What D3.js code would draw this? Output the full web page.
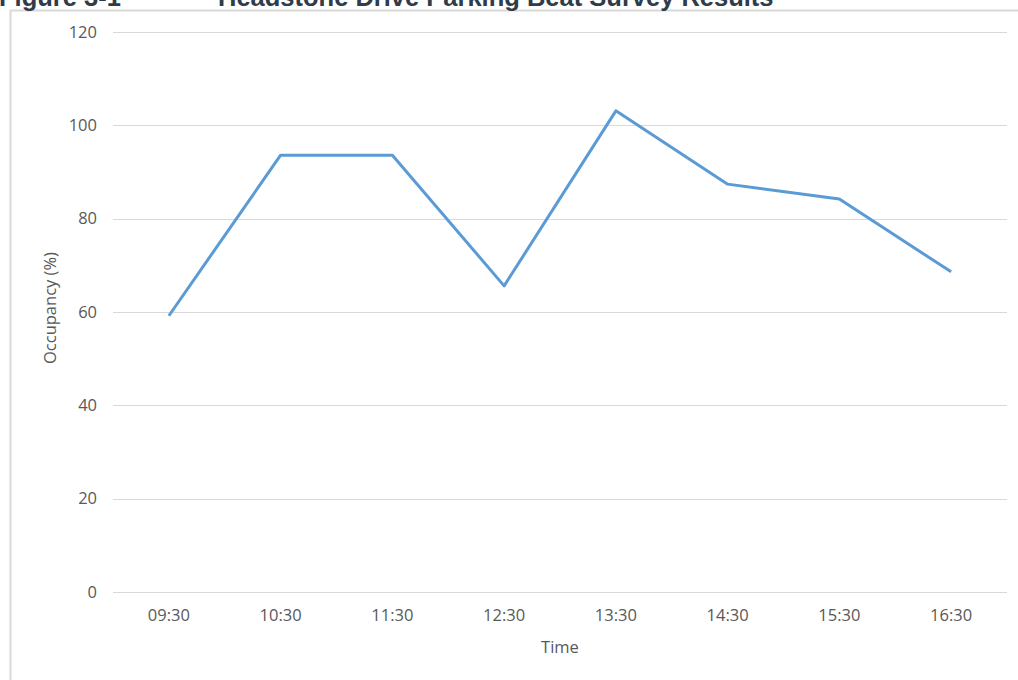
<!DOCTYPE html>
<html>
<head>
<meta charset="utf-8">
<script src="https://cdn.jsdelivr.net/npm/d3@7"></script>
<style>
  body { margin: 0; background: #fff; }
  svg { display: block; }
</style>
</head>
<body>
<script>
var width = 1018, height = 680;

// data
var times = ["09:30", "10:30", "11:30", "12:30", "13:30", "14:30", "15:30", "16:30"];
var occupancy = [59.2, 93.6, 93.6, 65.6, 103.1, 87.4, 84.2, 68.6];
var yTicks = [0, 20, 40, 60, 80, 100, 120];

var margin = {top: 32, right: 11, bottom: 88, left: 113};

var svg = d3.select("body")
    .append("svg")
    .attr("width", width)
    .attr("height", height);

// chart frame (left + top edges visible)
svg.append("path")
    .attr("d", "M10.5," + height + "V10.5H" + width)
    .attr("fill", "none")
    .attr("stroke", "#d9d9d9")
    .attr("stroke-width", 2);

// title, clipped at the top in the original
var titleFont = "'Liberation Sans', Arial, sans-serif";
svg.append("text")
    .attr("x", -1)
    .attr("y", 6)
    .attr("fill", "#2e3c4b")
    .style("font-family", titleFont)
    .style("font-weight", "bold")
    .style("font-size", "25.5px")
    .text("Figure 3-1");

svg.append("text")
    .attr("x", 218)
    .attr("y", 6)
    .attr("fill", "#2e3c4b")
    .style("font-family", titleFont)
    .style("font-weight", "bold")
    .style("font-size", "25.5px")
    .text("Headstone Drive Parking Beat Survey Results");

var x = d3.scaleBand()
    .domain(times)
    .range([margin.left, width - margin.right]);

var y = d3.scaleLinear()
    .domain([0, 120])
    .range([height - margin.bottom, margin.top]);

var g = svg.append("g");

// horizontal gridlines
g.selectAll("line.grid")
    .data(yTicks)
    .enter()
    .append("line")
    .attr("class", "grid")
    .attr("x1", margin.left)
    .attr("x2", width - margin.right)
    .attr("y1", function (d) { return Math.round(y(d)) + 0.5; })
    .attr("y2", function (d) { return Math.round(y(d)) + 0.5; })
    .attr("stroke", "#d9d9d9")
    .attr("stroke-width", 1);

var labelFont = "'Open Sans', sans-serif";
var labelSize = "16.5px";

// y axis labels
var yAxis = d3.axisLeft(y).tickValues(yTicks).tickSize(0).tickPadding(16);
g.append("g")
    .attr("transform", "translate(" + margin.left + ",0)")
    .call(yAxis)
    .call(function (a) { a.select(".domain").remove(); })
    .selectAll("text")
    .attr("fill", "#595959")
    .style("font-family", labelFont)
    .style("font-size", labelSize);

// x axis labels
var xAxis = d3.axisBottom(x).tickSize(0).tickPadding(17);
g.append("g")
    .attr("transform", "translate(0," + y(0) + ")")
    .call(xAxis)
    .call(function (a) { a.select(".domain").remove(); })
    .selectAll("text")
    .attr("fill", "#595959")
    .style("font-family", labelFont)
    .style("font-size", labelSize);

// axis titles
svg.append("text")
    .attr("x", (margin.left + width - margin.right) / 2)
    .attr("y", 653)
    .attr("text-anchor", "middle")
    .attr("fill", "#595959")
    .style("font-family", labelFont)
    .style("font-size", labelSize)
    .text("Time");

svg.append("text")
    .attr("transform", "translate(56," + 308 + ") rotate(-90)")
    .attr("text-anchor", "middle")
    .attr("fill", "#595959")
    .style("font-family", labelFont)
    .style("font-size", labelSize)
    .text("Occupancy (%)");

// the line
var line = d3.line()
    .x(function (d, i) { return x(times[i]) + x.bandwidth() / 2; })
    .y(function (d) { return y(d); });

g.append("path")
    .datum(occupancy)
    .attr("d", line)
    .attr("fill", "none")
    .attr("stroke", "#5b9bd5")
    .attr("stroke-width", 3)
    .attr("stroke-linejoin", "round");
</script>
</body>
</html>
